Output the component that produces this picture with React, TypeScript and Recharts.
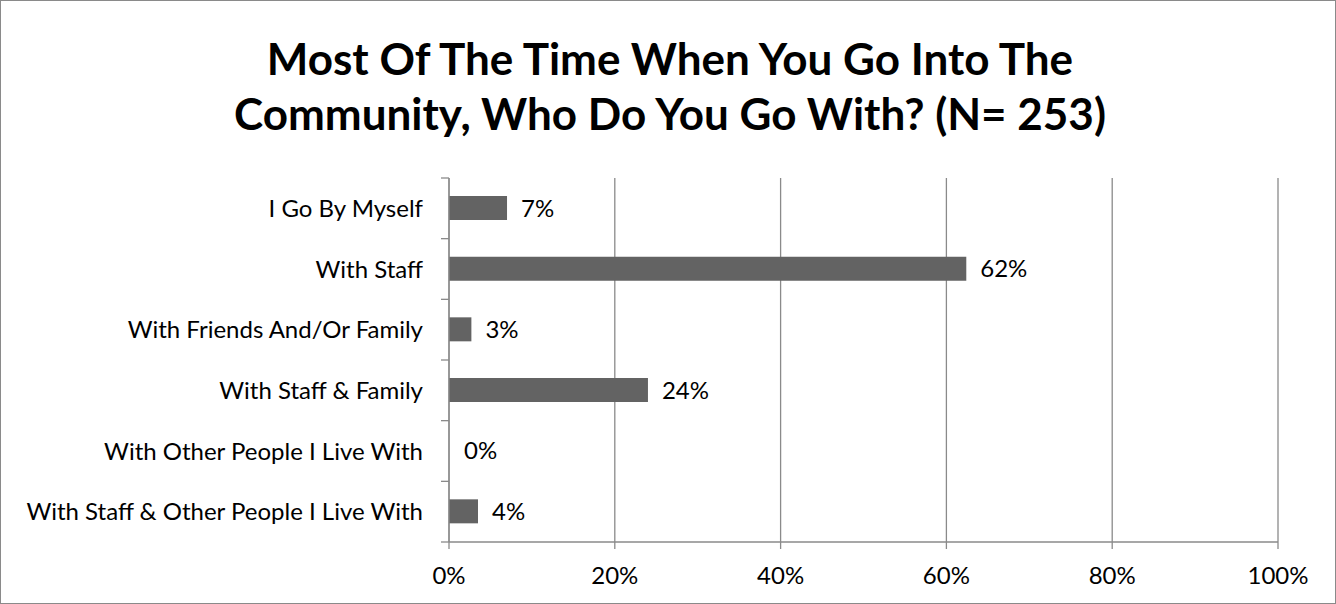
import React from "react";
import { BarChart, Bar, XAxis, YAxis, CartesianGrid, LabelList, Cell } from "recharts";

const categories = [
  "I Go By Myself",
  "With Staff",
  "With Friends And/Or Family",
  "With Staff & Family",
  "With Other People I Live With",
  "With Staff & Other People I Live With",
];
const values = [7.0, 62.4, 2.7, 24.0, 0.0, 3.5];
const valueLabels = ["7%", "62%", "3%", "24%", "0%", "4%"];
const xTicks = [0, 20, 40, 60, 80, 100];
const titleLines = [
  "Most Of The Time When You Go Into The",
  "Community, Who Do You Go With? (N= 253)",
];

const data = categories.map((c, i) => ({ name: c, value: values[i], label: valueLabels[i] }));

const FONT = "Lato, 'Open Sans', sans-serif";
const GRID = "#8a8a8a";
const BAR = "#636363";

const YTick = (props: any) => {
  const { x, y, payload, index } = props;
  const half = payload && typeof payload.offset === "number" ? payload.offset : 0;
  return (
    <g>
      <text x={x - 26} y={y} dy="0.36em" textAnchor="end" fontSize={24} fontFamily={FONT} fill="#000">
        {payload.value}
      </text>
      <line x1={x - 8} x2={x} y1={y - half} y2={y - half} stroke={GRID} strokeWidth={1.3} />
      {index === categories.length - 1 ? (
        <line x1={x - 8} x2={x} y1={y + half} y2={y + half} stroke={GRID} strokeWidth={1.3} />
      ) : null}
    </g>
  );
};

export default function App() {
  return (
    <div style={{ position: "absolute", left: 0, top: 0, width: 1336, height: 604, background: "#fff" }}>
      <div
        style={{
          position: "absolute",
          left: 0,
          top: 0,
          width: 1334,
          height: 602,
          border: "1px solid #8a8a8a",
        }}
      />
      <div
        style={{
          position: "absolute",
          left: 2,
          top: 31,
          width: 1336,
          textAlign: "center",
          fontFamily: FONT,
          fontWeight: 700,
          fontSize: 44,
          lineHeight: "55px",
          color: "#000",
        }}
      >
        {titleLines.map((t) => (
          <div key={t}>{t}</div>
        ))}
      </div>
      <div style={{ position: "absolute", left: 0, top: 0 }}>
        <BarChart
          width={1336}
          height={604}
          data={data}
          layout="vertical"
          margin={{ top: 178, right: 58, bottom: 0, left: 0 }}
          barSize={24}
        >
          <CartesianGrid horizontal={false} vertical={true} stroke={GRID} strokeWidth={1.3} />
          <XAxis
            type="number"
            domain={[0, 100]}
            ticks={xTicks}
            interval={0}
            tickFormatter={(v: number) => `${v}%`}
            height={62}
            axisLine={{ stroke: GRID, strokeWidth: 1.3 }}
            tickLine={{ stroke: GRID, strokeWidth: 1.3 }}
            tickSize={7}
            tickMargin={18}
            tick={{ fontSize: 24, fontFamily: FONT, fill: "#000" }}
          />
          <YAxis
            type="category"
            dataKey="name"
            width={449}
            axisLine={{ stroke: GRID, strokeWidth: 1.3 }}
            tickLine={false}
            tickSize={0}
            tickMargin={0}
            tick={<YTick />}
            interval={0}
          />
          <Bar dataKey="value" fill={BAR} minPointSize={1} isAnimationActive={false}>
            {data.map((d) => (
              <Cell key={d.name} fill={d.value === 0 ? "transparent" : BAR} />
            ))}
            <LabelList
              dataKey="label"
              position="right"
              offset={14}
              style={{ fontSize: 24, fontFamily: FONT, fill: "#000" }}
            />
          </Bar>
        </BarChart>
      </div>
    </div>
  );
}
